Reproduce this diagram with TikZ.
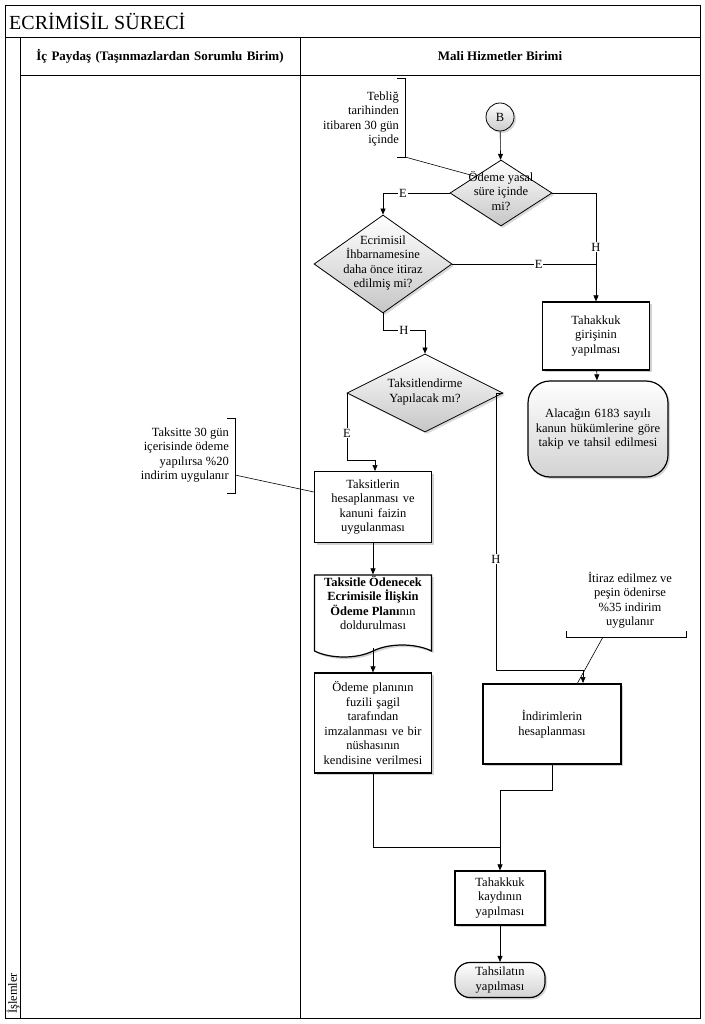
\documentclass[tikz,border=0pt]{standalone}
\usepackage{fontspec}
\setmainfont{Liberation Serif}
\usetikzlibrary{shapes.geometric,shapes.symbols,shapes.misc,shadows,arrows.meta}
\begin{document}
\begin{tikzpicture}[x=1pt,y=-1pt,
  every node/.style={font=\fontsize{12.5}{14.5}\selectfont, align=center, inner sep=1pt},
  box/.style={draw, line width=1.2pt, fill=white, drop shadow={shadow xshift=2pt,shadow yshift=-2pt,fill=gray!70}},
  dia/.style={diamond, draw, line width=0.8pt, aspect=1.6, inner sep=0pt, top color=white, bottom color=gray!45, drop shadow={shadow xshift=2pt,shadow yshift=-2pt,fill=gray!60}},
  term/.style={draw, line width=1.2pt, top color=white, bottom color=gray!35, drop shadow={shadow xshift=2pt,shadow yshift=-2pt,fill=gray!60}},
  arr/.style={-{Triangle[length=6pt,width=5pt]}, line width=0.6pt},
  ln/.style={line width=0.6pt},
  lab/.style={fill=white, inner sep=1pt}]
\useasboundingbox (0,0) rectangle (704,1024);
% frame
\draw[line width=0.8pt] (5,5) rectangle (700,1018);
\draw[line width=0.8pt] (5,37) -- (700,37) (20,37) -- (20,1018) (300,37) -- (300,1018) (20,75) -- (700,75);
\node[anchor=west, font=\fontsize{20}{22}\selectfont] (title) at (8,21) {ECRİMİSİL SÜRECİ};
\node[font=\bfseries\fontsize{13}{15}\selectfont, text width=265pt] (h1) at (160,56) {İç Paydaş (Taşınmazlardan Sorumlu Birim)};
\node[font=\bfseries\fontsize{13}{15}\selectfont] (h2) at (500,56) {Mali Hizmetler Birimi};
\node[rotate=90, anchor=west] (isl) at (13,1015) {İşlemler};
% nodes
\node[circle, draw, line width=0.8pt, minimum size=28pt, top color=white, bottom color=gray!40, drop shadow={shadow xshift=2pt,shadow yshift=-2pt,fill=gray!60}] (B) at (500,117) {B};
\node[dia, minimum width=102pt, minimum height=66pt] (d1) at (501,193) {};
\node (d1t) at (501,191) {Ödeme yasal\\süre içinde\\mi?};
\node[dia, minimum width=138pt, minimum height=98pt] (d2) at (383,264) {};
\node (d2t) at (383,263) {Ecrimisil\\İhbarnamesine\\daha önce itiraz\\edilmiş mi?};
\node[dia, minimum width=156pt, minimum height=78pt] (d3) at (425,393) {};
\node (d3t) at (425,392) {Taksitlendirme\\Yapılacak mı?};
\node[box, minimum width=107pt, minimum height=68pt, text width=100pt] (tah) at (596,336) {Tahakkuk\\girişinin\\yapılması};
\node[term, rounded corners=22pt, minimum width=140pt, minimum height=96pt, text width=128pt] (ala) at (598,429) {Alacağın 6183 sayılı kanun hükümlerine göre takip ve tahsil edilmesi};
\node[box, minimum width=117pt, minimum height=71pt, text width=112pt] (tak) at (373,507) {Taksitlerin\\hesaplanması ve\\kanuni faizin\\uygulanması};
\node[tape, tape bend top=none, tape bend height=12pt, draw, line width=1.2pt, fill=white, drop shadow={shadow xshift=2pt,shadow yshift=-2pt,fill=gray!70}, minimum width=117pt, minimum height=82pt] (doc) at (373,610) {};
\node (doct) at (373,603) {\textbf{Taksitle Ödenecek}\\\textbf{Ecrimisile İlişkin}\\\textbf{Ödeme Planı}nın\\doldurulması};
\node[box, minimum width=117pt, minimum height=100pt, text width=115pt] (ode) at (373,723) {Ödeme planının\\fuzili şagil\\tarafından\\imzalanması ve bir\\nüshasının\\kendisine verilmesi};
\node[box, minimum width=138pt, minimum height=80pt] (ind) at (552,724) {İndirimlerin\\hesaplanması};
\node[box, minimum width=90pt, minimum height=54pt] (kay) at (500,898) {Tahakkuk\\kaydının\\yapılması};
\node[term, rounded corners=15pt, minimum width=90pt, minimum height=35pt] (tsl) at (500,980) {Tahsilatın\\yapılması};
% annotations
\node[align=right, anchor=east] (n1) at (400,119) {Tebliğ\\tarihinden\\itibaren 30 gün\\içinde};
\draw[ln] (397,78) -- (405,78) -- (405,157) -- (397,157);
\draw[ln] (405,157) -- (d1.north west);
\node[align=right, anchor=east] (n2) at (230,455) {Taksitte 30 gün\\içerisinde ödeme\\yapılırsa \%20\\indirim uygulanır};
\draw[ln] (227,418) -- (235,418) -- (235,493) -- (227,493);
\draw[ln] (235,475) -- (tak.west |- 0,492);
\node (n3) at (630,600) {İtiraz edilmez ve\\peşin ödenirse\\\%35 indirim\\uygulanır};
\draw[ln] (566,631) -- (566,637) -- (686,637) -- (686,631);
\draw[ln] (603,637) -- (577,684);
% connectors
\draw[arr] (B) -- (d1);
\draw[arr] (d1.west) -| (d2.north) node[pos=0.35, lab] {E};
\draw[arr] (d1.east) -| (tah.north) node[pos=0.75, lab] {H};
\draw[ln] (d2.east) -- (596,264) node[pos=0.6, lab] {E};
\draw[arr] (d2.south) -- (383,330) -- (425,330) node[midway, lab] {H} -- (d3.north);
\draw[arr] (d3.west) -- (347,393) -- (347,460) node[pos=0.6, lab] {E} -- (375,460) -- (375,471);
\draw[arr] (d3.east) -- (496,393) -- (496,670) node[pos=0.6, lab] {H} -- (583,670) -- (583,683);
\draw[arr] (tah) -- (ala);
\draw[arr] (tak) -- (doc);
\draw[arr] (doc.south |- 0,648) -- (ode);
\draw[arr] (ode.south) -- (373,847) -- (500,847) -- (kay.north);
\draw[ln] (ind.south) -- (552,790) -- (500,790) -- (500,847);
\draw[arr] (kay) -- (tsl);
\end{tikzpicture}
\end{document}
